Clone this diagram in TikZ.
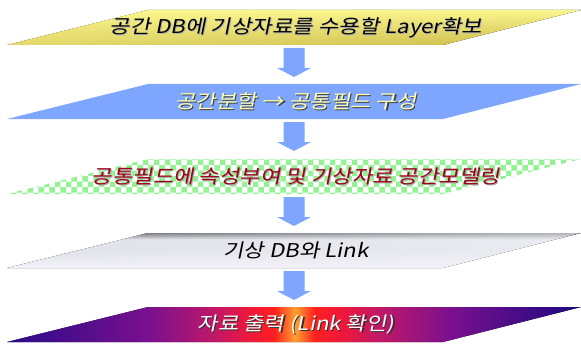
\documentclass[tikz,border=0pt]{standalone}
\usepackage{fontspec}
\newfontfamily\kr{Noto Sans CJK KR}[FakeSlant=0.2,FakeStretch=1.17]
\usetikzlibrary{calc,patterns,fadings}
\definecolor{arrowblue}{HTML}{7FA6FF}
\definecolor{bandblue}{HTML}{7FA6FF}
\definecolor{chkgreen}{HTML}{94F294}
\definecolor{txtyellow}{HTML}{FFFFB0}
\definecolor{txtred}{HTML}{A00018}
\definecolor{f1}{HTML}{2A0A88}
\definecolor{f2}{HTML}{7A108E}
\definecolor{f3}{HTML}{C01868}
\definecolor{f4}{HTML}{F01838}
\definecolor{f5}{HTML}{FF2020}
\definecolor{f6}{HTML}{FFA030}
\definecolor{f7}{HTML}{1A0880}
\pgfdeclarehorizontalshading{fireband}{100bp}{color(0bp)=(f1); color(25bp)=(f1); color(37.5bp)=(f2); color(43.1bp)=(f3); color(46.2bp)=(f4); color(48.3bp)=(f5); color(50.1bp)=(f6); color(51.8bp)=(f5); color(54bp)=(f4); color(57.5bp)=(f3); color(63.6bp)=(f2); color(75bp)=(f7); color(100bp)=(f7)}
\definecolor{y1}{HTML}{FAF68E}
\definecolor{y2}{HTML}{CDBC4A}
\definecolor{g1}{HTML}{6E6E76}
\definecolor{g2}{HTML}{E2E2EA}
\definecolor{g3}{HTML}{F2F2F8}
\pgfdeclareverticalshading{metal}{100bp}{color(0bp)=(g3); color(25bp)=(g3); color(50bp)=(g2); color(66bp)=(g2); color(75bp)=(g1); color(100bp)=(g1)}
\tikzset{
  lbl/.style={font=\kr\fontsize{19}{22}\selectfont, inner sep=0pt},
  blockarrow/.style={fill=arrowblue}
}
\begin{document}
\begin{tikzpicture}[x=1pt,y=-1pt]
\useasboundingbox (0,0) rectangle (581,345);
% band top coordinates
\coordinate (t1) at (295,10);
\coordinate (t2) at (295,84);
\coordinate (t3) at (295,159);
\coordinate (t4) at (295,233);
\coordinate (t5) at (295,307);
% bands
\newcommand\bandpath[1]{($(#1)+(-147,0)$) -- ($(#1)+(286,0)$) -- ($(#1)+(148,35)$) -- ($(#1)+(-288,35)$) -- cycle}
\fill[top color=y1, bottom color=y2] \bandpath{t1};
\fill[y1, path fading=east, opacity=0.5] \bandpath{t1};
\fill[bandblue] \bandpath{t2};
\fill[white] \bandpath{t3};
\fill[pattern=checkerboard, pattern color=chkgreen] \bandpath{t3};
\fill[shading=metal] \bandpath{t4};
\fill[g3, path fading=west, opacity=0.55] \bandpath{t4};
\fill[shading=fireband] \bandpath{t5};
% labels
\node[lbl, text=gray!60] at ($(t1)+(1.8,18.3)$) {공간 DB에 기상자료를 수용할 Layer확보};
\node[lbl] (b1) at ($(t1)+(1,17.5)$) {공간 DB에 기상자료를 수용할 Layer확보};
\node[lbl, text=black!75] at ($(t2)+(2.2,18.7)$) {공간분할 → 공통필드 구성};
\node[lbl, text=txtyellow] (b2) at ($(t2)+(1,17.5)$) {공간분할 → 공통필드 구성};
\node[lbl, text=gray!70] at ($(t3)+(1.8,18.3)$) {공통필드에 속성부여 및 기상자료 공간모델링};
\node[lbl, text=txtred] (b3) at ($(t3)+(1,17.5)$) {공통필드에 속성부여 및 기상자료 공간모델링};
\node[lbl] (b4) at ($(t4)+(1,17.5)$) {기상 DB와 Link};
\node[lbl, text=black!80] at ($(t5)+(2.2,18.7)$) {자료 출력 (Link 확인)};
\node[lbl, text=white] (b5) at ($(t5)+(1,17.5)$) {자료 출력 (Link 확인)};
% arrows
\foreach \a in {t1,t2,t3,t4}{
  \fill[blockarrow] ($(\a)+(-11.5,38)$) -- ++(21,0) -- ++(0,20) -- ++(6.5,0) -- ++(-17,9) -- ++(-17,-9) -- ++(6.5,0) -- cycle;
}
\end{tikzpicture}
\end{document}
